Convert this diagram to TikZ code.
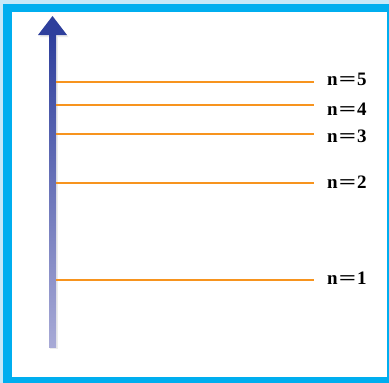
\documentclass[tikz,border=0pt]{standalone}
\usepackage{fontspec}
\setmainfont{Liberation Serif}
\usepackage{graphicx}
\definecolor{framelight}{HTML}{C6E8F8}
\definecolor{frameblue}{HTML}{00AEEF}
\definecolor{arrowtop}{HTML}{2E3F9C}
\definecolor{arrowmid}{HTML}{5260B0}
\definecolor{arrowbot}{HTML}{A8AAD6}
\definecolor{levelorange}{HTML}{F7941E}
\tikzset{
  level/.style={draw=levelorange, line width=2.3pt},
  lvllabel/.style={anchor=west, inner sep=0pt, font=\fontsize{19}{19}\selectfont\bfseries}
}
\newcommand{\weq}{\hspace{1pt}\scalebox{1.6}[1]{=}\hspace{1pt}}
\begin{document}
\begin{tikzpicture}[x=1pt,y=-1pt]
  \useasboundingbox (0,0) rectangle (389,383);
  \fill[framelight] (0,0) rectangle (389,383);
  \fill[frameblue] (3,4) rectangle (389,383);
  \fill[white] (12,12) rectangle (386.5,377);
  % arrow shadow
  \fill[black!8] (50,37) rectangle (57.5,349);
  \fill[black!8] (39.5,37) -- (54,18) -- (68.5,37) -- cycle;
  % arrow shaft with gradient
  \shade[top color=arrowtop, middle color=arrowmid, bottom color=arrowbot] (49,34) rectangle (56,347);
  \fill[arrowtop] (38,35) -- (52.5,16) -- (67,35) -- cycle;
  % levels
  \foreach \n/\y/\ty in {5/82/79, 4/105/109, 3/134/136, 2/183/182, 1/280/278}{
    \coordinate (L\n a) at (56,\y);
    \coordinate (L\n b) at (314,\y);
    \draw[level] (L\n a) -- (L\n b);
    \node[lvllabel] (T\n) at (327,\ty) {n\weq\n};
  }
\end{tikzpicture}
\end{document}
